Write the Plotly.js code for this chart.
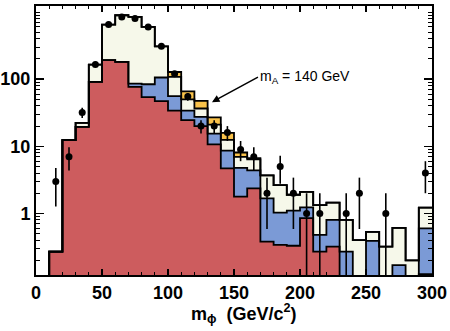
<!DOCTYPE html>
<html><head><meta charset="utf-8">
<script src="https://cdn.plot.ly/plotly-3.0.1.min.js"></script>
<style>html,body{margin:0;padding:0;background:#fff}#chart{width:450px;height:331px}</style>
</head><body><div id="chart"></div>
<script>
// bin low edges (GeV/c^2), bin width 10
const binLow = [10,20,30,40,50,60,70,80,90,100,110,120,130,140,150,160,170,180,190,200,210,220,230,240,250,260,270,280,290];
const binWidth = 10;
// background components (events per bin), bottom to top of the stack
const redComp   = [0.27,12.4,19.5,91,192,181,77,54,47,34,24.5,20,10.7,4.7,1.78,2.37,0.38,0.34,0.33,0.85,0.27,0.32,0,0,0,0,0,0,0.125];
const blueComp  = [0,0,0,0,0,0,9,30,59,22,9.5,7.5,4.8,3.9,3.0,2.0,1.3,0.69,0.77,0.38,0.21,0.48,0.27,0,0.39,0,0.17,0,0.475];
const lightComp = [0,0,2.9,74,458,715,759,516,203,52,16,9.1,5.5,3.9,2.2,2.0,2.02,1.62,0.8,0.87,0.85,0.65,0.53,0.40,0.14,0.32,0.44,0.20,0.62];
const signalComp= [0,0,0,0,0,0,0,0,0,20,16,11,6,3.4,1.1,0.3,0,0,0,0,0,0,0,0,0,0,0,0,0];
// observed events per bin
const dataCounts = [3,7,32,165,650,845,800,600,310,120,55,20,20,16,9,7,2,5,2,1,1,0,1,2,0,1,0,0,4];

const colors = {red:'#cd5c5e', blue:'#7b9ad6', light:'#f6f8ea', signal:'#f9c24a'};
const FLOOR = 1e-3;

function cumulate(arrs){
  return binLow.map((_,i)=>arrs.reduce((s,a)=>s+a[i],0));
}
const cumRed = cumulate([redComp]);
const cumBlue = cumulate([redComp, blueComp]);
const cumLight = cumulate([redComp, blueComp, lightComp]);
const cumSig = cumulate([redComp, blueComp, lightComp, signalComp]);
const centers = binLow.map(x=>x+binWidth/2);

function barTrace(cum, color){
  return {type:'bar', x:centers, y:cum.map(v=>Math.max(v-FLOOR,0)), base:binLow.map(()=>FLOOR),
    width:binWidth, marker:{color:color, line:{width:0}}, hoverinfo:'skip', showlegend:false};
}
function stepTrace(cum){
  const xs=[binLow[0]].concat(binLow).concat([binLow[binLow.length-1]+binWidth]);
  const ys=[FLOOR].concat(cum.map(v=>v>0?v:FLOOR)).concat([cum[cum.length-1]>0?cum[cum.length-1]:FLOOR]);
  return {type:'scatter', mode:'lines', x:xs, y:ys, line:{shape:'hv', color:'#000', width:1.8},
    hoverinfo:'skip', showlegend:false};
}

const dx=[], dy=[], de=[];
dataCounts.forEach((n,i)=>{ if(n>0){ dx.push(centers[i]); dy.push(n); de.push(Math.sqrt(n)); } });

const traces = [
  barTrace(cumSig, colors.signal),
  barTrace(cumLight, colors.light),
  barTrace(cumBlue, colors.blue),
  barTrace(cumRed, colors.red),
  stepTrace(cumRed), stepTrace(cumBlue), stepTrace(cumLight), stepTrace(cumSig),
  {type:'scatter', mode:'markers', x:dx, y:dy,
   marker:{color:'#000', size:7},
   error_y:{type:'data', array:de, visible:true, color:'#000', thickness:1.6, width:0},
   hoverinfo:'skip', showlegend:false}
];

const xTickVals=[0,50,100,150,200,250,300];
const yTickVals=[1,10,100];
const yTickText=['1','10','100'];
const yMinor=[];
[0.1,1,10,100].forEach(d=>{ for(let k=2;k<=9;k++) yMinor.push(k*d); });
yMinor.push(1000);

const tickFont={family:'Liberation Sans, Arial, sans-serif', size:18, weight:700, color:'#000'};
const layout={
  width:450, height:331,
  margin:{l:36, r:18, t:6, b:56},
  paper_bgcolor:'#fff', plot_bgcolor:'#fff',
  barmode:'overlay', bargap:0,
  xaxis:{range:[0,300], tickmode:'array', tickvals:xTickVals, ticks:'inside', ticklen:6, tickwidth:1.5, tickcolor:'#000',
    showline:true, linewidth:2, linecolor:'#000', mirror:'allticks', showgrid:false, zeroline:false,
    tickfont:tickFont,
    minor:{tickmode:'linear', tick0:0, dtick:10, ticks:'inside', ticklen:3, tickwidth:1, tickcolor:'#000', showgrid:false}},
  yaxis:{type:'log', range:[-0.917,3.09], tickmode:'array', tickvals:yTickVals, ticktext:yTickText,
    ticks:'inside', ticklen:8, tickwidth:1.5, tickcolor:'#000',
    showline:true, linewidth:2, linecolor:'#000', mirror:'allticks', showgrid:false, zeroline:false,
    tickfont:tickFont,
    minor:{tickmode:'array', tickvals:yMinor, ticks:'inside', ticklen:4, tickwidth:1, tickcolor:'#000', showgrid:false}},
  annotations:[
    {x:133.3, y:Math.log10(45.5), xref:'x', yref:'y', text:'m<sub>A</sub> = 140 GeV', showarrow:true,
     arrowhead:2, arrowsize:1, arrowwidth:1.5, arrowcolor:'#000', ax:46, ay:-25,
     xanchor:'left', yanchor:'middle', font:{family:'Liberation Sans, Arial, sans-serif', size:14, color:'#000'}},
    {x:0.525, y:-0.142, xref:'paper', yref:'paper', text:'m<sub>ϕ</sub>\u00A0\u00A0(GeV/c<sup>2</sup>)', showarrow:false,
     xanchor:'center', yanchor:'middle', font:tickFont}
  ]
};
Plotly.newPlot('chart', traces, layout, {staticPlot:true, displayModeBar:false});
</script>
</body></html>
